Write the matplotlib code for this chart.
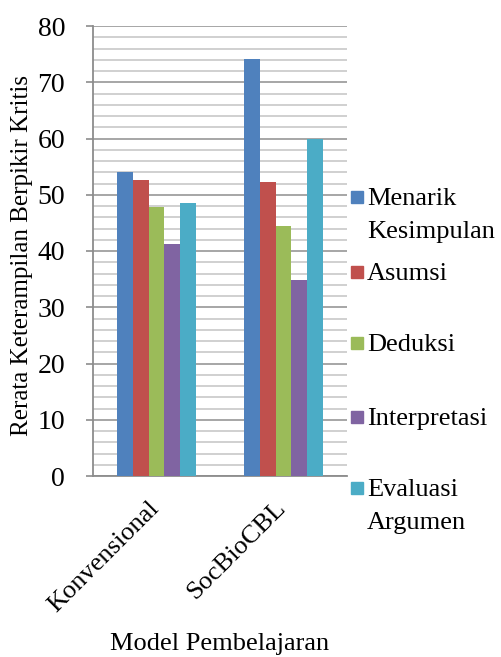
import numpy as np
import matplotlib.pyplot as plt
import matplotlib.transforms as mtransforms
from matplotlib.patches import Rectangle

plt.rcParams['font.family'] = ['Liberation Serif', 'DejaVu Serif']

# data
kategori = ['Konvensional', 'SocBioCBL']
seri = ['Menarik\nKesimpulan', 'Asumsi', 'Deduksi', 'Interpretasi', 'Evaluasi\nArgumen']
nilai = [
    [54.0, 74.1],   # Menarik Kesimpulan
    [52.6, 52.3],   # Asumsi
    [47.9, 44.4],   # Deduksi
    [41.2, 34.8],   # Interpretasi
    [48.5, 60.0],   # Evaluasi Argumen
]
warna = ['#4F81BD', '#C0504D', '#9BBB59', '#8064A2', '#4BACC6']

W, H = 501, 657
fig = plt.figure(figsize=(W / 100, H / 100), dpi=100)
ax = fig.add_axes([93 / W, 1 - 476 / H, (347 - 93) / W, (476 - 26) / H])

x = np.arange(len(kategori))
lebar = 0.123
for i, (s, v) in enumerate(zip(seri, nilai)):
    pos = x + (i - 2) * lebar
    ax.bar(pos, v, width=lebar, color=warna[i], zorder=3, linewidth=0)

ax.set_xlim(-0.5, 1.5)
ax.set_ylim(0, 80)
ax.set_yticks(np.arange(0, 81, 10))
ax.set_yticks(np.arange(0, 81, 2), minor=True)
ax.grid(axis='y', which='minor', color='#c8c8c8', linewidth=1.2, zorder=0)
ax.grid(axis='y', which='major', color='#a6a6a6', linewidth=1.4, zorder=1)
ax.tick_params(axis='y', which='major', length=5, width=1.2, color='#8c8c8c',
               labelsize=20, pad=15)
ax.tick_params(axis='y', which='minor', length=0)
ax.tick_params(axis='x', length=0, labelsize=19, pad=8)
ax.set_xticks(x)
ax.set_xticklabels(kategori, rotation=45, ha='right', va='top', rotation_mode='anchor')
geser = mtransforms.ScaledTranslation(-9 / 100, -10 / 100, fig.dpi_scale_trans)
for lbl in ax.get_xticklabels():
    lbl.set_transform(lbl.get_transform() + geser)

for sp in ['top', 'right']:
    ax.spines[sp].set_visible(False)
for sp in ['left', 'bottom']:
    ax.spines[sp].set_color('#8c8c8c')
    ax.spines[sp].set_linewidth(1.3)

ax.set_ylabel('Rerata Keterampilan Berpikir Kritis', fontsize=18)
ax.yaxis.set_label_coords(-0.235, 0.491)
fig.text(220 / W, 1 - 650 / H, 'Model Pembelajaran', fontsize=19,
         ha='center', va='baseline')

# legend drawn by hand (Excel-style uneven spacing)
kotak_y = [197, 272, 343, 417, 488]
for i, s in enumerate(seri):
    cy = kotak_y[i]
    fig.patches.append(Rectangle((351 / W, 1 - (cy + 6) / H), 12 / W, 12 / H,
                                 transform=fig.transFigure, color=warna[i]))
    for j, baris in enumerate(s.split('\n')):
        fig.text(367 / W, 1 - (cy + 8 + j * 33) / H, baris, fontsize=19,
                 ha='left', va='baseline')

fig.savefig('out.png', dpi=100)
